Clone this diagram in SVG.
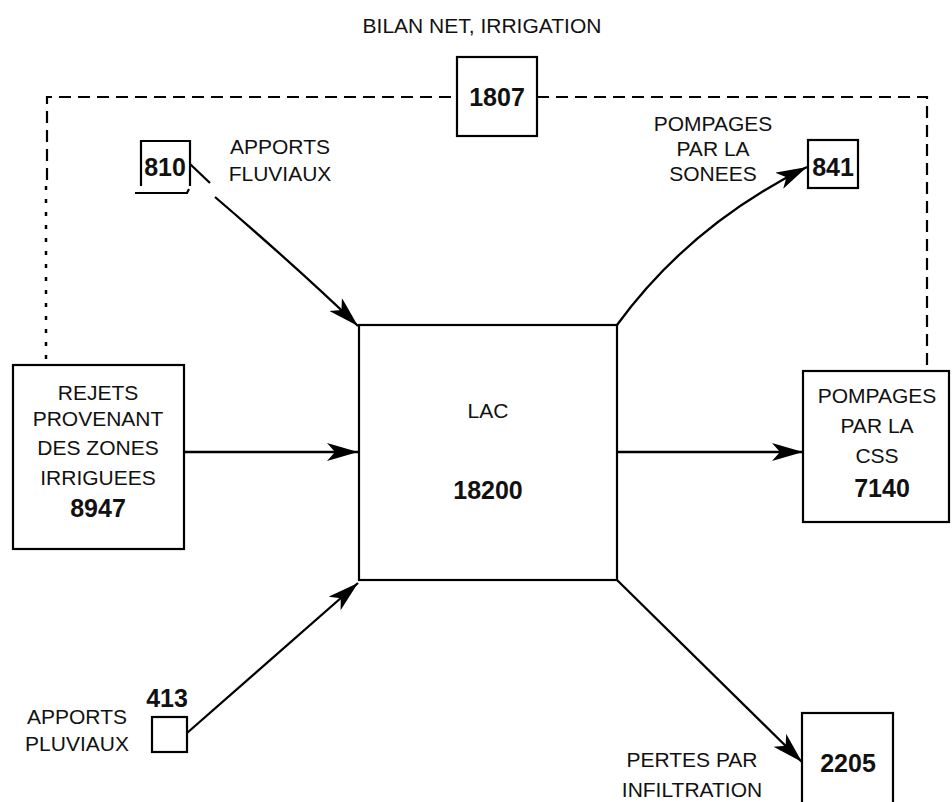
<svg xmlns="http://www.w3.org/2000/svg" width="952" height="802" viewBox="0 0 952 802">
<style>
.box{fill:none;stroke:#000;stroke-width:2.2}
.t{font-family:"Liberation Sans",Arial,sans-serif;font-size:21px;fill:#111;text-anchor:middle}
.n{font-family:"Liberation Sans",Arial,sans-serif;font-size:25px;font-weight:bold;fill:#111;text-anchor:middle}
.c{fill:none;stroke:#000;stroke-width:2.3}
.d{fill:none;stroke:#000;stroke-width:2.2;stroke-dasharray:12 7}
.dot{fill:none;stroke:#000;stroke-width:2.5;stroke-dasharray:4 9}
</style>
<defs>
<marker id="ah" markerUnits="userSpaceOnUse" markerWidth="34" markerHeight="20" refX="31" refY="9" orient="auto">
<path d="M0,0 L31,9 L0,18 L8,9 z" fill="#000"/>
</marker>
</defs>
<rect width="952" height="802" fill="#fff"/>
<g id="connectors">
<path class="d" d="M47,180 L47,97 L457,97"/>
<path class="dot" d="M46,186 L46,368"/>
<path class="d" d="M537,97 L927,97 L927,371"/>
<path class="c" d="M190,164 L210,183"/>
<path class="c" d="M215,197 Q300,270 358,326" marker-end="url(#ah)"/>
<path class="c" d="M617,325 Q690,225 807,167" marker-end="url(#ah)"/>
<path class="c" d="M184,452 L358,452" marker-end="url(#ah)"/>
<path class="c" d="M617,452 L803,452" marker-end="url(#ah)"/>
<path class="c" d="M187,733 L358,583" marker-end="url(#ah)"/>
<path class="c" d="M617,580 L802,762" marker-end="url(#ah)"/>
</g>
<g id="bilan">
<text class="t" x="482" y="33">BILAN NET, IRRIGATION</text>
<rect class="box" x="457" y="57" width="80" height="79"/>
<text class="n" x="497" y="106">1807</text>
</g>
<g id="apports-fluviaux">
<path class="box" d="M141,186 L141,141 L190,141 L190,186"/>
<path class="box" d="M135,193 L187,193 L189,189"/>
<text class="n" x="165" y="176">810</text>
<text class="t" x="280" y="154">APPORTS</text>
<text class="t" x="280" y="181">FLUVIAUX</text>
</g>
<g id="sonees">
<text class="t" x="713" y="131">POMPAGES</text>
<text class="t" x="713" y="156">PAR LA</text>
<text class="t" x="713" y="181">SONEES</text>
<rect class="box" x="808" y="140" width="50" height="48"/>
<text class="n" x="833" y="176">841</text>
</g>
<g id="rejets">
<rect class="box" x="13" y="365" width="171" height="184"/>
<text class="t" x="98" y="400">REJETS</text>
<text class="t" x="98" y="426">PROVENANT</text>
<text class="t" x="98" y="455">DES ZONES</text>
<text class="t" x="98" y="485">IRRIGUEES</text>
<text class="n" x="98" y="517">8947</text>
</g>
<g id="lac">
<rect class="box" x="359" y="325" width="258" height="255"/>
<text class="t" x="488" y="418">LAC</text>
<text class="n" x="488" y="499">18200</text>
</g>
<g id="css">
<rect class="box" x="803" y="371" width="146" height="151"/>
<text class="t" x="877" y="403">POMPAGES</text>
<text class="t" x="877" y="433">PAR LA</text>
<text class="t" x="877" y="463">CSS</text>
<text class="n" x="882" y="497">7140</text>
</g>
<g id="apports-pluviaux">
<text class="t" x="77" y="724">APPORTS</text>
<text class="t" x="77" y="751">PLUVIAUX</text>
<text class="n" x="167" y="707">413</text>
<rect class="box" x="152" y="717" width="35" height="35"/>
</g>
<g id="infiltration">
<text class="t" x="692" y="767">PERTES PAR</text>
<text class="t" x="692" y="797">INFILTRATION</text>
<rect class="box" x="802" y="713" width="91" height="92"/>
<text class="n" x="848" y="772">2205</text>
</g>
</svg>
